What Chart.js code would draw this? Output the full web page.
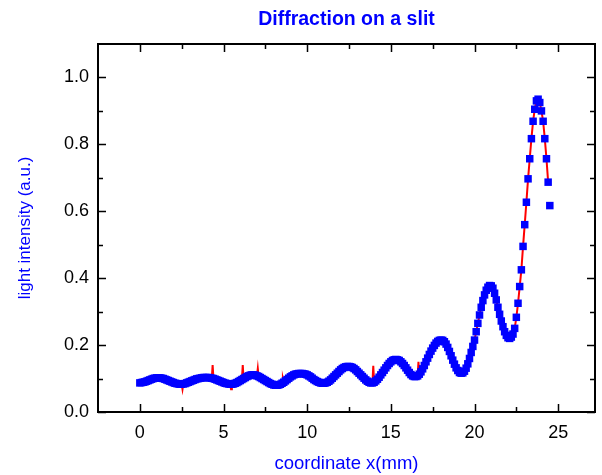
<!DOCTYPE html>
<html>
<head>
<meta charset="utf-8">
<script src="https://cdn.jsdelivr.net/npm/chart.js@4/dist/chart.umd.min.js"></script>
<style>
    html, body { margin: 0; padding: 0; background: #ffffff; }
    #wrap { width: 602px; height: 475px; }
</style>
</head>
<body>
<div id="wrap"><canvas id="diffChart" width="602" height="475"></canvas></div>
<script>
// measured positions (mm)
const positions = [
    0.0, 0.1, 0.2, 0.3, 0.4, 0.5, 0.6, 0.7, 0.8, 0.9,
    1.0, 1.1, 1.2, 1.3, 1.4, 1.5, 1.6, 1.7, 1.8, 1.9,
    2.0, 2.1, 2.2, 2.3, 2.4, 2.5, 2.6, 2.7, 2.8, 2.9,
    3.0, 3.1, 3.2, 3.3, 3.4, 3.5, 3.6, 3.7, 3.8, 3.9,
    4.0, 4.1, 4.2, 4.3, 4.4, 4.5, 4.6, 4.7, 4.8, 4.9,
    5.0, 5.1, 5.2, 5.3, 5.4, 5.5, 5.6, 5.7, 5.8, 5.9,
    6.0, 6.1, 6.2, 6.3, 6.4, 6.5, 6.6, 6.7, 6.8, 6.9,
    7.0, 7.1, 7.2, 7.3, 7.4, 7.5, 7.6, 7.7, 7.8, 7.9,
    8.0, 8.1, 8.2, 8.3, 8.4, 8.5, 8.6, 8.7, 8.8, 8.9,
    9.0, 9.1, 9.2, 9.3, 9.4, 9.5, 9.6, 9.7, 9.8, 9.9,
    10.0, 10.1, 10.2, 10.3, 10.4, 10.5, 10.6, 10.7, 10.8, 10.9,
    11.0, 11.1, 11.2, 11.3, 11.4, 11.5, 11.6, 11.7, 11.8, 11.9,
    12.0, 12.1, 12.2, 12.3, 12.4, 12.5, 12.6, 12.7, 12.8, 12.9,
    13.0, 13.1, 13.2, 13.3, 13.4, 13.5, 13.6, 13.7, 13.8, 13.9,
    14.0, 14.1, 14.2, 14.3, 14.4, 14.5, 14.6, 14.7, 14.8, 14.9,
    15.0, 15.1, 15.2, 15.3, 15.4, 15.5, 15.6, 15.7, 15.8, 15.9,
    16.0, 16.1, 16.2, 16.3, 16.4, 16.5, 16.6, 16.7, 16.8, 16.9,
    17.0, 17.1, 17.2, 17.3, 17.4, 17.5, 17.6, 17.7, 17.8, 17.9,
    18.0, 18.1, 18.2, 18.3, 18.4, 18.5, 18.6, 18.7, 18.8, 18.9,
    19.0, 19.1, 19.2, 19.3, 19.4, 19.5, 19.6, 19.7, 19.8, 19.9,
    20.0, 20.1, 20.2, 20.3, 20.4, 20.5, 20.6, 20.7, 20.8, 20.9,
    21.0, 21.1, 21.2, 21.3, 21.4, 21.5, 21.6, 21.7, 21.8, 21.9,
    22.0, 22.1, 22.2, 22.3, 22.4, 22.5, 22.6, 22.7, 22.8, 22.9,
    23.0, 23.1, 23.2, 23.3, 23.4, 23.5, 23.6, 23.7, 23.8, 23.9,
    24.0, 24.1, 24.2, 24.3, 24.4, 24.5
];

// light intensity (a.u.)
const intensity = [
    0.087, 0.088, 0.089, 0.090, 0.092, 0.094, 0.096, 0.098, 0.100, 0.101,
    0.102, 0.102, 0.102, 0.101, 0.100, 0.098, 0.096, 0.094, 0.092, 0.090,
    0.088, 0.086, 0.085, 0.084, 0.083, 0.083, 0.084, 0.085, 0.087, 0.089,
    0.091, 0.093, 0.095, 0.097, 0.099, 0.100, 0.101, 0.102, 0.103, 0.103,
    0.103, 0.103, 0.102, 0.101, 0.100, 0.098, 0.096, 0.094, 0.092, 0.090,
    0.088, 0.086, 0.085, 0.084, 0.083, 0.083, 0.084, 0.086, 0.088, 0.091,
    0.094, 0.097, 0.100, 0.103, 0.106, 0.108, 0.110, 0.111, 0.111, 0.110,
    0.108, 0.106, 0.103, 0.100, 0.097, 0.094, 0.091, 0.088, 0.085, 0.083,
    0.081, 0.080, 0.080, 0.081, 0.083, 0.086, 0.089, 0.093, 0.097, 0.101,
    0.105, 0.108, 0.111, 0.113, 0.114, 0.115, 0.115, 0.115, 0.114, 0.113,
    0.111, 0.108, 0.105, 0.101, 0.097, 0.094, 0.091, 0.089, 0.087, 0.086,
    0.086, 0.087, 0.089, 0.092, 0.096, 0.101, 0.106, 0.111, 0.116, 0.121,
    0.126, 0.130, 0.133, 0.135, 0.136, 0.136, 0.135, 0.133, 0.130, 0.126,
    0.121, 0.116, 0.111, 0.106, 0.101, 0.096, 0.092, 0.089, 0.087, 0.087,
    0.089, 0.093, 0.098, 0.104, 0.111, 0.118, 0.125, 0.132, 0.139, 0.145,
    0.150, 0.154, 0.156, 0.157, 0.156, 0.154, 0.150, 0.145, 0.139, 0.132,
    0.125, 0.118, 0.112, 0.108, 0.106, 0.106, 0.108, 0.113, 0.120, 0.129,
    0.139, 0.150, 0.161, 0.172, 0.182, 0.191, 0.199, 0.206, 0.211, 0.214,
    0.215, 0.214, 0.210, 0.203, 0.193, 0.181, 0.168, 0.155, 0.143, 0.132,
    0.124, 0.118, 0.116, 0.117, 0.122, 0.131, 0.144, 0.160, 0.178, 0.196,
    0.215, 0.240, 0.265, 0.290, 0.313, 0.333, 0.350, 0.364, 0.373, 0.378,
    0.377, 0.370, 0.355, 0.335, 0.313, 0.292, 0.272, 0.255, 0.240, 0.229,
    0.222, 0.220, 0.224, 0.233, 0.250, 0.283, 0.325, 0.375, 0.425, 0.495,
    0.560, 0.627, 0.697, 0.757, 0.817, 0.869, 0.905, 0.930, 0.935, 0.925,
    0.900, 0.869, 0.817, 0.757, 0.687, 0.617
];

// glitches in the red trace that poke out of the marker band
const spikeX = [2.55, 4.35, 5.45, 6.15, 7.05, 8.55, 13.95, 16.65];
const spikeY = [0.068, 0.140, 0.068, 0.140, 0.130, 0.100, 0.138, 0.150];
const traceEnd = 24.4;

const xMajor = [0, 5, 10, 15, 20, 25];
const xMinor = [2.5, 7.5, 12.5, 17.5, 22.5];
const yMajor = [0.0, 0.2, 0.4, 0.6, 0.8, 1.0];
const yMinor = [0.1, 0.3, 0.5, 0.7, 0.9];

// inward ticks on all four sides plus the box
const frameTicks = {
    id: 'frameTicks',
    afterDatasetsDraw(chart) {
        const ctx = chart.ctx;
        const a = chart.chartArea;
        const xs = chart.scales.x;
        const ys = chart.scales.y;
        ctx.save();
        ctx.strokeStyle = '#000000';
        ctx.lineWidth = 1.5;
        ctx.beginPath();
        xMajor.concat(xMinor).forEach(v => {
            const len = xMajor.includes(v) ? 8 : 5;
            const px = Math.round(xs.getPixelForValue(v)) + 0.5;
            ctx.moveTo(px, a.bottom); ctx.lineTo(px, a.bottom - len);
            ctx.moveTo(px, a.top); ctx.lineTo(px, a.top + len);
        });
        yMajor.concat(yMinor).forEach(v => {
            const len = yMajor.includes(v) ? 8 : 5;
            const py = Math.round(ys.getPixelForValue(v)) + 0.5;
            ctx.moveTo(a.left, py); ctx.lineTo(a.left + len, py);
            ctx.moveTo(a.right, py); ctx.lineTo(a.right - len, py);
        });
        ctx.stroke();
        ctx.lineWidth = 2;
        ctx.strokeRect(a.left, a.top, a.right - a.left, a.bottom - a.top);
        ctx.restore();
    }
};

window.onload = function() {
    const pts = positions.map((x, i) => ({ x: x, y: intensity[i] }));
    let trace = pts.filter(p => p.x <= traceEnd);
    spikeX.forEach((x, i) => trace.push({ x: x, y: spikeY[i] }));
    trace.sort((p, q) => p.x - q.x);

    const ctx = document.getElementById('diffChart').getContext('2d');
    new Chart(ctx, {
        type: 'scatter',
        data: {
            datasets: [{
                label: 'data',
                data: pts,
                order: 0,
                showLine: false,
                pointStyle: 'rect',
                pointRadius: 5.3,
                pointBackgroundColor: '#0000ff',
                pointBorderColor: '#0000ff',
                pointBorderWidth: 0
            }, {
                label: 'trace',
                data: trace,
                order: 1,
                showLine: true,
                borderColor: '#ff0000',
                borderWidth: 2,
                tension: 0,
                pointRadius: 0
            }]
        },
        plugins: [frameTicks],
        options: {
            responsive: false,
            animation: false,
            events: [],
            layout: { padding: { left: 0, right: 7, top: 0, bottom: 0 } },
            plugins: {
                legend: { display: false },
                tooltip: { enabled: false },
                title: {
                    display: true,
                    fullSize: false,
                    text: 'Diffraction on a slit',
                    color: '#0000ff',
                    font: { family: 'Liberation Sans', size: 19.5, weight: 'bold' },
                    padding: { top: 8, bottom: 12.6 }
                }
            },
            scales: {
                x: {
                    type: 'linear',
                    min: -2.5,
                    max: 27.2,
                    grid: { display: false, drawTicks: false },
                    border: { display: false },
                    afterFit: s => { s.height = 63; },
                    afterBuildTicks: s => { s.ticks = xMajor.map(v => ({ value: v })); },
                    ticks: {
                        color: '#000000',
                        padding: 10,
                        maxRotation: 0,
                        font: { family: 'Liberation Sans', size: 18 }
                    },
                    title: {
                        display: true,
                        text: 'coordinate x(mm)',
                        color: '#0000ff',
                        font: { family: 'Liberation Sans', size: 18.5 },
                        padding: { top: 0, bottom: 0 }
                    }
                },
                y: {
                    type: 'linear',
                    min: 0,
                    max: 1.1,
                    grid: { display: false, drawTicks: false },
                    border: { display: false },
                    afterFit: s => { s.width = 98; },
                    afterBuildTicks: s => { s.ticks = yMajor.map(v => ({ value: v })); },
                    ticks: {
                        color: '#000000',
                        padding: 9,
                        callback: v => v.toFixed(1),
                        font: { family: 'Liberation Sans', size: 18 }
                    },
                    title: {
                        display: true,
                        text: 'light intensity (a.u.)',
                        color: '#0000ff',
                        font: { family: 'Liberation Sans', size: 17 },
                        padding: { top: 15, bottom: 0 }
                    }
                }
            }
        }
    });
};
</script>
</body>
</html>
